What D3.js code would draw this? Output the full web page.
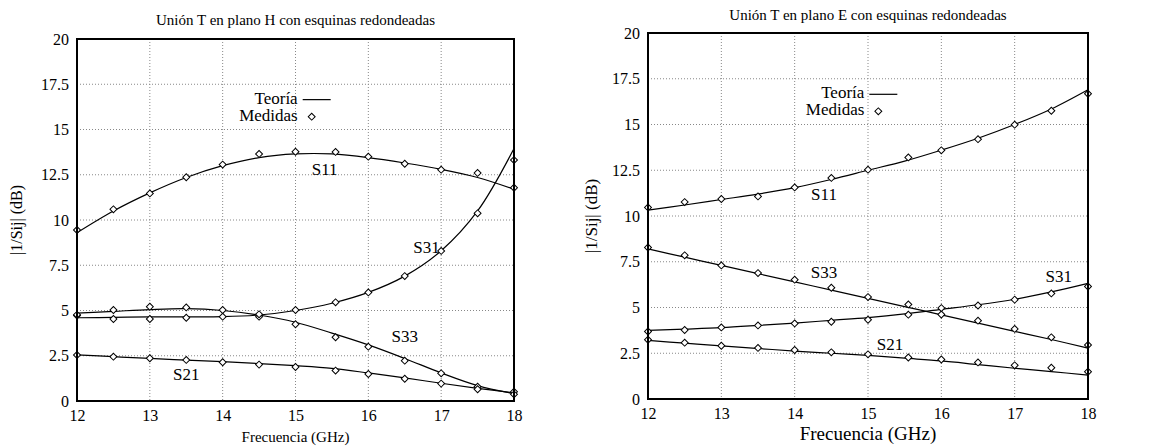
<html>
  <head>
    <script src="https://d3js.org/d3.v7.min.js"></script>
    <style>
      body { margin: 0; background: #fff; }
    </style>
  </head>
  <body>
    <svg class="chart" width="1162" height="447"></svg>
  </body>
  <script>
  // ---- data ----
  const freqMeas = [12, 12.5, 13, 13.5, 14, 14.5, 15, 15.55, 16, 16.5, 17, 17.5, 18];
  const freqTheo = [12, 12.5, 13, 13.5, 14, 14.5, 15, 15.5, 16, 16.5, 17, 17.5, 18];
  const yTicks = [0, 2.5, 5, 7.5, 10, 12.5, 15, 17.5, 20];
  const xTicks = [12, 13, 14, 15, 16, 17, 18];

  // plano H
  const hS11Meas = [9.45, 10.59, 11.47, 12.36, 13.06, 13.65, 13.77, 13.76, 13.5, 13.11, 12.78, 12.6, 11.78];
  const hS31Meas = [4.72, 4.53, 4.53, 4.6, 4.66, 4.66, 5.03, 5.45, 6.0, 6.9, 8.29, 10.37, 13.31];
  const hS33Meas = [4.76, 5.03, 5.21, 5.17, 5.03, 4.79, 4.24, 3.52, 3.0, 2.23, 1.53, 0.79, 0.51];
  const hS21Meas = [2.54, 2.45, 2.36, 2.27, 2.14, 2.01, 1.88, 1.68, 1.49, 1.23, 0.96, 0.65, 0.37];
  const hS11Theo = [9.3, 10.5, 11.5, 12.35, 13.0, 13.45, 13.65, 13.65, 13.45, 13.15, 12.8, 12.35, 11.7];
  const hS31Theo = [4.6, 4.62, 4.65, 4.65, 4.66, 4.75, 5.0, 5.4, 6.0, 6.9, 8.3, 10.5, 13.95];
  const hS33Theo = [4.85, 4.95, 5.05, 5.1, 5.0, 4.75, 4.35, 3.75, 3.1, 2.35, 1.55, 0.85, 0.4];
  const hS21Theo = [2.55, 2.45, 2.35, 2.26, 2.17, 2.07, 1.95, 1.8, 1.55, 1.28, 0.98, 0.7, 0.45];

  // plano E
  const eS11Meas = [10.47, 10.76, 10.93, 11.07, 11.56, 12.08, 12.53, 13.2, 13.59, 14.2, 14.99, 15.75, 16.68];
  const eS33Meas = [8.28, 7.85, 7.3, 6.88, 6.52, 6.08, 5.57, 5.17, 4.62, 4.28, 3.83, 3.37, 2.95];
  const eS31Meas = [3.69, 3.77, 3.91, 4.02, 4.13, 4.22, 4.33, 4.61, 4.97, 5.11, 5.43, 5.77, 6.15];
  const eS21Meas = [3.24, 3.08, 2.91, 2.79, 2.68, 2.55, 2.44, 2.27, 2.16, 2.0, 1.84, 1.71, 1.49];
  const eS11Theo = [10.32, 10.6, 10.9, 11.2, 11.55, 12.0, 12.5, 13.0, 13.6, 14.25, 15.0, 15.85, 16.9];
  const eS33Theo = [8.2, 7.75, 7.3, 6.85, 6.4, 5.95, 5.5, 5.05, 4.6, 4.15, 3.7, 3.25, 2.78];
  const eS31Theo = [3.75, 3.82, 3.9, 4.02, 4.15, 4.3, 4.45, 4.65, 4.9, 5.15, 5.45, 5.85, 6.32];
  const eS21Theo = [3.2, 3.05, 2.9, 2.76, 2.62, 2.5, 2.38, 2.23, 2.08, 1.88, 1.68, 1.5, 1.3];

  const FONT = 'Liberation Serif';
  const svg = d3.select('.chart').attr('font-family', FONT);

  function txt(g){
    return g.append('text').attr('font-family', FONT).attr('fill', '#000');
  }

  function drawPanel(p){
    let x = d3.scaleLinear().domain([12, 18]).range([p.left, p.right]);
    let y = d3.scaleLinear().domain([0, 20]).range([p.bottom, p.top]);
    let g = svg.append('g');

    // grid
    g.selectAll('.gx').data(xTicks.slice(1, -1)).join('line')
      .attr('x1', d=>x(d)).attr('x2', d=>x(d))
      .attr('y1', p.top).attr('y2', p.bottom)
      .attr('stroke', '#888').attr('stroke-dasharray', '1,2');
    g.selectAll('.gy').data(yTicks.slice(1, -1)).join('line')
      .attr('y1', d=>y(d)).attr('y2', d=>y(d))
      .attr('x1', p.left).attr('x2', p.right)
      .attr('stroke', '#888').attr('stroke-dasharray', '1,2');

    // axes (labels only, frame drawn below)
    let ax = g.append('g').attr('transform', `translate(0,${p.bottom})`)
      .call(d3.axisBottom(x).tickValues(xTicks).tickFormat(d3.format('d')).tickSize(0).tickPadding(9));
    let ay = g.append('g').attr('transform', `translate(${p.left},0)`)
      .call(d3.axisLeft(y).tickValues(yTicks).tickFormat(d=>d).tickSize(0).tickPadding(8));
    [ax, ay].forEach(a=>{
      a.attr('font-family', FONT).attr('font-size', 16);
      a.select('.domain').remove();
      a.selectAll('text').attr('fill', '#000').attr('font-family', FONT);
    });

    // theory curves
    let line = d3.line().x((d,i)=>x(freqTheo[i])).y(d=>y(d)).curve(d3.curveCatmullRom);
    g.selectAll('.theo').data(p.theo).join('path')
      .attr('d', d=>line(d))
      .attr('fill', 'none').attr('stroke', '#000').attr('stroke-width', 1.2);

    // measured points
    let sym = d3.symbol().type(d3.symbolSquare).size(24);
    p.meas.forEach(series=>{
      g.selectAll(null).data(series).join('path')
        .attr('d', sym)
        .attr('transform', (d,i)=>`translate(${x(freqMeas[i])},${y(d)}) rotate(45)`)
        .attr('fill', '#fff').attr('stroke', '#000').attr('stroke-width', 1);
    });

    // frame
    g.append('rect')
      .attr('x', p.left).attr('y', p.top)
      .attr('width', p.right - p.left).attr('height', p.bottom - p.top)
      .attr('fill', 'none').attr('stroke', '#000').attr('stroke-width', 2);

    // series labels
    p.labels.forEach(d=>{
      txt(g).attr('x', x(d.x)).attr('y', y(d.y))
        .attr('text-anchor', 'middle').attr('dominant-baseline', 'middle')
        .attr('font-size', 17).text(d.t);
    });

    // legend
    let lx = x(p.legend[0]), ly = y(p.legend[1]);
    txt(g).attr('x', lx).attr('y', ly).attr('text-anchor', 'end')
      .attr('dominant-baseline', 'middle').attr('font-size', 17).text('Teoría');
    g.append('line').attr('x1', lx + 5).attr('x2', lx + 33).attr('y1', ly).attr('y2', ly)
      .attr('stroke', '#000').attr('stroke-width', 1.2);
    txt(g).attr('x', lx).attr('y', ly + 17).attr('text-anchor', 'end')
      .attr('dominant-baseline', 'middle').attr('font-size', 17).text('Medidas');
    g.append('path').attr('d', sym)
      .attr('transform', `translate(${lx + 14},${ly + 17}) rotate(45)`)
      .attr('fill', '#fff').attr('stroke', '#000');

    // titles
    txt(g).attr('x', (p.left + p.right) / 2).attr('y', p.titleY)
      .attr('text-anchor', 'middle').attr('font-size', 15).text(p.title);
    txt(g).attr('x', (p.left + p.right) / 2).attr('y', p.xlabY)
      .attr('text-anchor', 'middle').attr('font-size', p.xlabSize).text('Frecuencia (GHz)');
    txt(g)
      .attr('transform', `translate(${p.ylabX},${(p.top + p.bottom) / 2}) rotate(-90)`)
      .attr('text-anchor', 'middle').attr('font-size', p.ylabSize).text('|1/Sij| (dB)');
  }

  drawPanel({
    left: 77, right: 514, top: 39, bottom: 401,
    title: 'Unión T en plano H con esquinas redondeadas', titleY: 25,
    xlabY: 442, xlabSize: 15, ylabX: 22, ylabSize: 16,
    theo: [hS11Theo, hS31Theo, hS33Theo, hS21Theo],
    meas: [hS11Meas, hS31Meas, hS33Meas, hS21Meas],
    labels: [{t:'S11', x:15.4, y:12.7}, {t:'S31', x:16.8, y:8.4}, {t:'S33', x:16.5, y:3.5}, {t:'S21', x:13.5, y:1.4}],
    legend: [15.03, 16.65]
  });

  drawPanel({
    left: 648, right: 1088, top: 33, bottom: 399,
    title: 'Unión T en plano E con esquinas redondeadas', titleY: 20,
    xlabY: 440, xlabSize: 19, ylabX: 597, ylabSize: 17,
    theo: [eS11Theo, eS33Theo, eS31Theo, eS21Theo],
    meas: [eS11Meas, eS33Meas, eS31Meas, eS21Meas],
    labels: [{t:'S11', x:14.4, y:11.1}, {t:'S33', x:14.4, y:6.8}, {t:'S31', x:17.6, y:6.6}, {t:'S21', x:15.3, y:2.9}],
    legend: [14.95, 16.65]
  });
  </script>
</html>
